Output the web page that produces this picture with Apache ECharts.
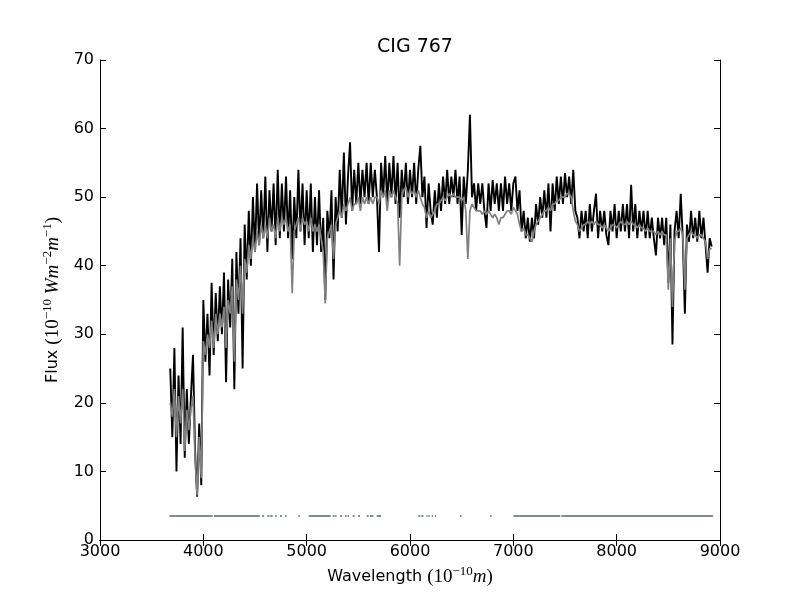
<!DOCTYPE html>
<html>
<head>
<meta charset="utf-8">
<script src="https://cdn.jsdelivr.net/npm/echarts@6/dist/echarts.min.js"></script>
<style>html,body{margin:0;padding:0;background:#fff}#c{width:800px;height:600px}</style>
</head>
<body>
<div id="c"></div>
<script>
// Wavelength sampling grid of the spectrum (Angstrom)
const lambdaStart = 3680;
const lambdaStep = 20;

// Observed flux (black)
const observedFlux = [
  25,15,28,10,24,14,31,12,22,14,
  21,27,13,6.3,17,8,35,26,33,24,
  37.5,27,36,29,37,30,39,23,38,31,
  41,22,42,33,44,25,46,38,48,40,
  50,42,52,43,51,44,53,42,51,45,
  52,43,54,44,52,45,53,44,51,41,
  50,44,54,45,52,43,51,44,52,42,
  50,43,51,42,47,35,48,44,51,38,
  50,45,54,47,56.5,46,53,58,48,54,
  49,55,49,54,50,55,49,55,50,54,
  50,42,55,50,56,49,55,50,56,49,
  55,47,54,50,55,49,54,50,55,49,
  54,57.5,50,53,45.5,52,48,46,51,47,
  52,48,53,49,54,49,53,50,54,49,
  53,44.5,53,49,54,62,50,52,48,52,
  49,52,48,45.5,52,48,52.5,49,52,48,
  52,48,53,49,52,48,52,53,48,51,
  45,48,44,47,43.5,47,44,49,46,50,
  47,51,47,52,45,52,48,53,49,53,
  49,53.5,50,53,49,54,48,47,44,48,
  45,48,44,49,45,48,50.5,44,48,45,
  48,44.5,43,48,45,49,44,48,45,49,
  45,49,44,51.8,45,49,44,48,45,48,
  44,48,44,47,44,41.5,47,44,47,43,
  47,37.5,46,28.5,45,48,44,50.5,44,33,
  46,43.5,48,44,47,43.5,48,44,47,43,39,44,42.8
];

// Model flux (grey)
const modelFlux = [
  20,18,22,15,21,17,22,13,19,16,
  19,21,12,6.5,15,9,29,27,30,28,
  32,28,33,30,33,31,34,28,35,33,
  37,26,38,35,40,33,41,39,43,41,
  44,42,45,43,46,44,46,44,47,45,
  46,44,47,45,47,46,47,45,46,36,
  45,46,47,45,47,46,46.5,45,47,45,
  46,45,46,44,42,34.5,44,45,46,41,
  46,47,48,47,49,48,49,50,48,49,
  49,50,48,50,49,50,49,50,49,50,
  50,49,51,50,51,48,51,50,51,50,
  49,40,50,51,51.5,50,51,50.5,51,50,
  51,50,49,48.5,47,48,47,47.5,48,49,
  49,49.5,50,49.5,50,50.5,50,50.5,50,50,
  50,49.5,50,48,41,48,49,48.5,48,48,
  48,47.5,48,47.5,48,47.5,47,47.5,47,46,
  47,47,47.5,48,48,47.5,48.5,48,47.5,46,
  45,45.5,44.5,44.5,44,43.5,45,46,46.5,47,
  47.5,48,48,48.5,48,49,49,49.5,49.5,50,
  50,50,50.5,50.5,50,48,46.5,46,45,45.5,
  46,46,46.5,46,46.5,46,46.5,46,46,45.5,
  46,45.5,45,45.5,46,46,45.5,46,46.5,46,
  46,46.5,46,46.5,46,46,45.5,46,45.5,45.5,
  45,45.5,45,45,45,44.5,45,44.5,45,44.5,
  44.5,36.5,44,34,43.5,45,45,45.5,44.5,36.5,
  44,44.5,45,44.5,44.5,44,44.5,44.5,44,43.5,41,42.5,42.5
];

// Masked wavelength ranges (start, end) drawn at a constant level
const maskSegments = [
  [3671,4090],[4103,4548],[4568,4587],[4619,4640],[4648,4671],[4694,4710],
  [4742,4761],[4790,4806],[4919,4935],[5019,5232],[5252,5270],[5276,5290],
  [5323,5342],[5371,5386],[5395,5410],[5445,5464],[5497,5516],[5581,5600],
  [5612,5645],[5677,5719],[6081,6100],[6110,6130],[6158,6170],[6178,6192],
  [6210,6222],[6240,6252],[6484,6500],[6774,6790],[7000,7455],[7465,8932]
];
const maskLevel = 3.5;

const xMin = 3000, xMax = 9000, xInterval = 1000;
const yMin = 0, yMax = 70, yInterval = 10;

const obsData = observedFlux.map((v, i) => [lambdaStart + i * lambdaStep, v]);
const modData = modelFlux.map((v, i) => [lambdaStart + i * lambdaStep, v]);
const maskData = [];
maskSegments.forEach((s, k) => {
  if (k > 0) maskData.push([(maskSegments[k - 1][1] + s[0]) / 2, '-']);
  maskData.push([s[0], maskLevel]);
  maskData.push([s[1], maskLevel]);
});

const chart = echarts.init(document.getElementById('c'), null, {renderer: 'canvas'});
const tickFont = {fontFamily: 'DejaVu Sans', fontSize: 16, color: '#000'};
const rich = {
  n: {fontFamily: 'DejaVu Sans', fontSize: 16, color: '#000', lineHeight: 24},
  m: {fontFamily: 'Liberation Serif', fontSize: 19, color: '#000', lineHeight: 24},
  i: {fontFamily: 'Liberation Serif', fontSize: 19, fontStyle: 'italic', color: '#000', lineHeight: 24},
  s: {fontFamily: 'Liberation Serif', fontSize: 13, color: '#000', lineHeight: 12, verticalAlign: 'top'}
};
const axisLine = {show: true, lineStyle: {color: '#000', width: 1}};
const tickIn = {show: true, inside: true, length: 6, lineStyle: {color: '#000', width: 1}};
const plainNum = v => String(v);

chart.setOption({
  animation: false,
  backgroundColor: '#fff',
  title: {
    text: 'CIG 767',
    left: 410, top: 33, textAlign: 'center',
    textStyle: {fontFamily: 'DejaVu Sans', fontSize: 19, fontWeight: 'normal', color: '#000'}
  },
  grid: {left: 100, right: 80, top: 60, bottom: 60, containLabel: false},
  xAxis: [{
    type: 'value', min: xMin, max: xMax, interval: xInterval,
    axisLine: axisLine, axisTick: tickIn, splitLine: {show: false},
    axisLabel: Object.assign({margin: 4, formatter: plainNum}, tickFont),
    name: '{n|Wavelength }{m|(10}{s|−10}{i|m}{m|)}',
    nameLocation: 'middle', nameGap: 25,
    nameTextStyle: {rich: rich}
  }, {
    type: 'value', position: 'top', min: xMin, max: xMax, interval: xInterval,
    axisLine: axisLine, axisTick: tickIn, axisLabel: {show: false}, splitLine: {show: false}
  }],
  yAxis: [{
    type: 'value', min: yMin, max: yMax, interval: yInterval,
    axisLine: axisLine, axisTick: tickIn, splitLine: {show: false},
    axisLabel: Object.assign({margin: 6, formatter: plainNum}, tickFont),
    name: '{n|Flux }{m|(10}{s|−10}{i| Wm}{s|−2}{i|m}{s|−1}{m|)}',
    nameLocation: 'middle', nameGap: 32, nameRotate: 90,
    nameTextStyle: {rich: rich}
  }, {
    type: 'value', position: 'right', min: yMin, max: yMax, interval: yInterval,
    axisLine: axisLine, axisTick: tickIn, axisLabel: {show: false}, splitLine: {show: false}
  }],
  series: [{
    name: 'observed', type: 'line', data: obsData, showSymbol: false, symbol: 'none',
    lineStyle: {color: '#000', width: 1.9}, z: 2
  }, {
    name: 'model', type: 'line', data: modData, showSymbol: false, symbol: 'none',
    lineStyle: {color: '#808080', width: 1.7}, z: 3
  }, {
    name: 'mask', type: 'line', data: maskData, showSymbol: false, symbol: 'none',
    connectNulls: false,
    lineStyle: {color: '#5a6a70', width: 1.5}, z: 4
  }]
});
</script>
</body>
</html>
